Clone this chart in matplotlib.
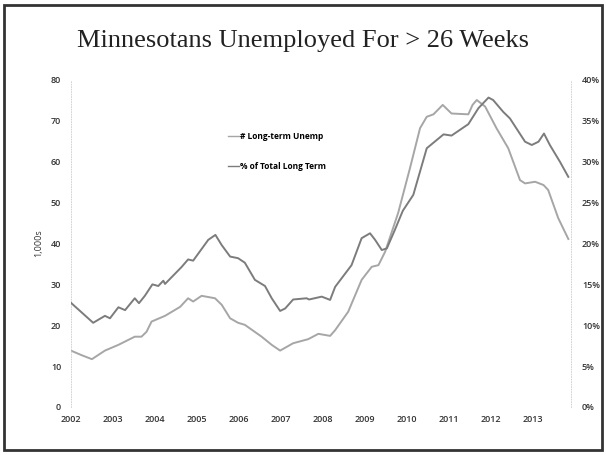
import matplotlib.pyplot as plt
from matplotlib.patches import Rectangle
from matplotlib.ticker import FuncFormatter

# long-term unemployed, thousands (left axis)
unemp_years = [2002.0, 2002.25, 2002.5, 2002.81, 2003.13, 2003.52, 2003.68, 2003.8, 2003.92,
               2004.24, 2004.6, 2004.79, 2004.91, 2005.11, 2005.43, 2005.59, 2005.79, 2005.98,
               2006.14, 2006.54, 2006.78, 2006.98, 2007.29, 2007.65, 2007.89, 2008.17, 2008.29,
               2008.6, 2008.92, 2009.16, 2009.32, 2009.48, 2009.79, 2010.07, 2010.31, 2010.47,
               2010.63, 2010.85, 2011.06, 2011.46, 2011.56, 2011.66, 2011.86, 2012.13, 2012.41,
               2012.69, 2012.81, 2013.05, 2013.25, 2013.36, 2013.6, 2013.84]
unemp_vals = [13.8, 12.7, 11.7, 13.8, 15.2, 17.2, 17.2, 18.4, 20.9,
              22.3, 24.5, 26.6, 25.8, 27.2, 26.6, 25.0, 21.7, 20.6,
              20.1, 17.2, 15.2, 13.8, 15.6, 16.6, 17.9, 17.4, 18.8,
              23.3, 31.1, 34.3, 34.7, 38.0, 47.5, 58.4, 68.2, 71.0,
              71.6, 73.9, 71.8, 71.6, 73.9, 75.1, 73.5, 68.2, 63.3,
              55.5, 54.7, 55.1, 54.3, 53.1, 46.2, 41.1]

# share of total unemployed that is long term, % (right axis)
share_years = [2002.0, 2002.53, 2002.81, 2002.93, 2003.13, 2003.29, 2003.52, 2003.62, 2003.76,
               2003.94, 2004.08, 2004.2, 2004.24, 2004.63, 2004.79, 2004.91, 2005.27, 2005.44,
               2005.59, 2005.79, 2005.98, 2006.14, 2006.22, 2006.38, 2006.62, 2006.78, 2006.98,
               2007.1, 2007.29, 2007.61, 2007.67, 2007.97, 2008.17, 2008.29, 2008.68, 2008.92,
               2009.12, 2009.24, 2009.4, 2009.52, 2009.71, 2009.9, 2010.15, 2010.47, 2010.87,
               2011.06, 2011.46, 2011.7, 2011.94, 2012.05, 2012.29, 2012.45, 2012.81, 2012.97,
               2013.13, 2013.26, 2013.4, 2013.64, 2013.84]
share_pct = [12.75, 10.3, 11.15, 10.85, 12.2, 11.85, 13.3, 12.7, 13.6,
             15.0, 14.8, 15.45, 15.05, 17.1, 18.05, 17.9, 20.45, 21.05,
             19.8, 18.4, 18.2, 17.65, 16.95, 15.55, 14.8, 13.3, 11.75,
             12.05, 13.15, 13.3, 13.15, 13.5, 13.1, 14.7, 17.35, 20.65,
             21.25, 20.45, 19.2, 19.4, 21.65, 24.0, 25.95, 31.65, 33.35,
             33.2, 34.6, 36.55, 37.85, 37.55, 36.1, 35.3, 32.45, 32.05,
             32.45, 33.45, 32.05, 30.0, 28.15]

years = list(range(2002, 2014))

fig = plt.figure(figsize=(6.06, 4.55), dpi=100)
ax = fig.add_axes([0.117, 0.1055, 0.825, 0.7187])
ax2 = ax.twinx()

ln1, = ax.plot(unemp_years, unemp_vals, color='#a6a6a6', lw=1.4,
               label='# Long-term Unemp')
ln2, = ax2.plot(share_years, share_pct, color='#7c7c7c', lw=1.4,
                label='% of Total Long Term')

ax.set_xlim(2002, 2013.9)
ax.set_ylim(0, 80)
ax2.set_ylim(0, 40)
ax.set_xticks(years)
ax.set_yticks(range(0, 81, 10))
ax2.set_yticks(range(0, 41, 5))
ax2.yaxis.set_major_formatter(FuncFormatter(lambda v, p: f'{int(v)}%'))

tick_font = dict(family='Open Sans', size=6.5, weight='semibold', color='#333333')
for a in (ax, ax2):
    for s in ('top', 'bottom'):
        a.spines[s].set_visible(False)
    a.tick_params(length=0, pad=8)
    for lab in a.get_xticklabels() + a.get_yticklabels():
        lab.set(**tick_font)
ax.spines['left'].set(color='#cccccc', linestyle=(0, (1, 2)), lw=0.6)
ax.spines['right'].set_visible(False)
ax2.spines['left'].set_visible(False)
ax2.spines['right'].set(color='#cccccc', linestyle=(0, (1, 2)), lw=0.6)
ax.tick_params(axis='x', pad=6)
ax.tick_params(axis='y', pad=7)
ax2.tick_params(axis='y', pad=8)

ax.set_ylabel('1,000s', family='Open Sans', size=6.5, color='#333333', labelpad=5.5)

leg = ax.legend(handles=[ln1, ln2], loc='upper left', bbox_to_anchor=(0.305, 0.855),
                frameon=False, handlelength=1.4, handletextpad=0.1, labelspacing=2.6,
                borderpad=0, prop=dict(family='Open Sans', size=6, weight='bold'))
for line in leg.get_lines():
    line.set_linewidth(1.0)

fig.text(0.5, 0.91, 'Minnesotans Unemployed For > 26 Weeks', ha='center', va='center',
         family='Liberation Serif', size=19, color='#222222')

fig.patches.append(Rectangle((0.007, 0.01), 0.986, 0.98, transform=fig.transFigure,
                             fill=False, edgecolor='#333333', lw=2))

fig.savefig('out.png', dpi=100)
